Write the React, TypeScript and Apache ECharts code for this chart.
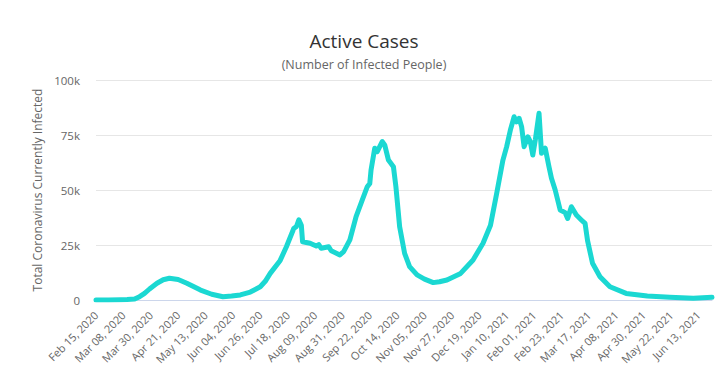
import React, { useEffect, useRef } from "react";
import * as echarts from "echarts";

// Daily categories start on this date; total number of days on the axis
const startDate = "2020-02-15";
const dayCount = 496;

const dayIndex = [
  0, 10, 20, 25, 31, 35, 39, 43, 49, 54, 59, 66, 73, 84, 93, 102, 109, 116, 124, 132,
  136, 140, 148, 153, 159, 161, 163, 165, 166, 172, 177, 179, 181, 187, 189, 196, 199, 204, 209, 214,
  218, 220, 221, 224, 226, 230, 232, 235, 239, 241, 244, 248, 252, 258, 264, 271, 276, 282, 293, 303,
  311, 317, 322, 327, 330, 333, 336, 338, 340, 342, 344, 347, 349, 351, 353, 356, 358, 361, 364, 366,
  369, 373, 377, 379, 382, 386, 390, 393, 395, 399, 405, 413, 426, 443, 461, 480, 495,
];
const activeCases = [
  0, 0, 100, 200, 400, 1500, 3000, 5000, 7600, 9200, 9900, 9300, 7600, 4500, 2600, 1500, 1800, 2300, 3600, 6000,
  8500, 12100, 18000, 24200, 32600, 33300, 36400, 34000, 26500, 25800, 24500, 25200, 23500, 24200, 22400, 20500, 22000, 27300, 37900, 45500,
  51500, 53000, 59000, 69000, 67400, 72000, 70500, 63600, 60600, 51500, 33300, 21200, 15200, 11400, 9500, 7900, 8300, 9100, 12100, 18200,
  25800, 34000, 48500, 63600, 69700, 77300, 83300, 81000, 82600, 78800, 69700, 74200, 72000, 65900, 72700, 84900, 66700, 69000, 60600, 55300,
  50000, 40900, 39700, 37100, 42400, 38600, 36400, 34800, 27000, 16700, 10600, 6000, 3000, 1800, 1200, 800, 1200,
];

// y-axis ticks
const yTicks = [0, 25000, 50000, 75000, 100000];

const monthNames = ["Jan", "Feb", "Mar", "Apr", "May", "Jun", "Jul", "Aug", "Sep", "Oct", "Nov", "Dec"];

function buildCategories(): string[] {
  const out: string[] = [];
  const base = new Date(startDate + "T00:00:00Z");
  for (let i = 0; i < dayCount; i++) {
    const d = new Date(base.getTime() + i * 86400000);
    const dd = String(d.getUTCDate()).padStart(2, "0");
    out.push(`${monthNames[d.getUTCMonth()]} ${dd}, ${d.getUTCFullYear()}`);
  }
  return out;
}

export default function App() {
  const ref = useRef<HTMLDivElement>(null);

  useEffect(() => {
    if (!ref.current) return;
    const chart = echarts.init(ref.current, undefined, { renderer: "svg" });
    const categories = buildCategories();
    const font = "'Open Sans', sans-serif";
    chart.setOption({
      animation: false,
      backgroundColor: "#ffffff",
      title: {
        text: "Active Cases",
        subtext: "(Number of Infected People)",
        left: "center",
        top: 26,
        itemGap: 8,
        textStyle: { fontFamily: font, fontSize: 19, fontWeight: "normal", color: "#333333" },
        subtextStyle: { fontFamily: font, fontSize: 12.5, color: "#666666" },
      },
      grid: { left: 96, right: 16, top: 80, bottom: 90, containLabel: false },
      xAxis: {
        type: "category",
        data: categories,
        boundaryGap: false,
        axisLine: { lineStyle: { color: "#ccd6eb" } },
        axisTick: { show: false },
        axisLabel: {
          interval: 21,
          rotate: 45,
          margin: 13,
          fontFamily: font,
          fontSize: 11,
          color: "#666666",
        },
      },
      yAxis: {
        type: "value",
        min: yTicks[0],
        max: yTicks[yTicks.length - 1],
        interval: 25000,
        name: "Total Coronavirus Currently Infected",
        nameLocation: "middle",
        nameGap: 50,
        nameTextStyle: { fontFamily: font, fontSize: 12, color: "#666666" },
        axisLine: { show: false },
        axisTick: { show: false },
        axisLabel: {
          fontFamily: font,
          fontSize: 11.5,
          color: "#666666",
          margin: 16,
          formatter: (v: number) => (v === 0 ? "0" : `${v / 1000}k`),
        },
        splitLine: { lineStyle: { color: "#e6e6e6" } },
      },
      series: [
        {
          type: "line",
          name: "Currently Infected",
          data: dayIndex.map((d, i) => [d, activeCases[i]]),
          showSymbol: false,
          symbol: "none",
          lineStyle: { color: "#1bd8d2", width: 5, join: "round", cap: "round" },
          itemStyle: { color: "#1bd8d2" },
        },
      ],
    });
    return () => chart.dispose();
  }, []);

  return <div ref={ref} style={{ width: 728, height: 390, position: "absolute", left: 0, top: 0 }} />;
}
